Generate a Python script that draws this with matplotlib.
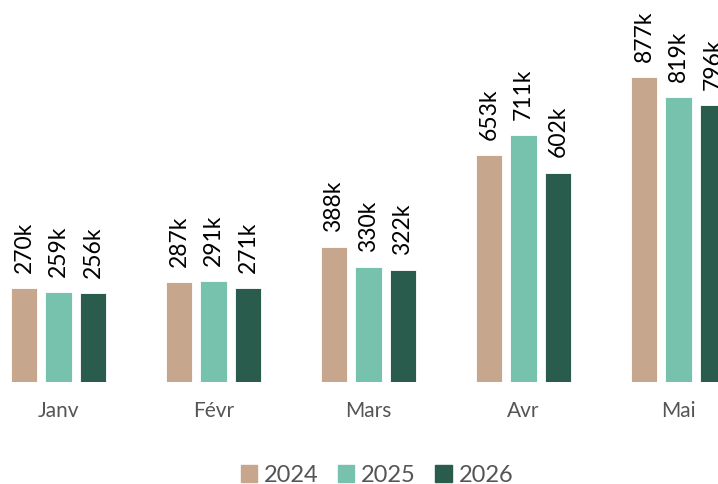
import matplotlib
matplotlib.use("Agg")
import matplotlib.pyplot as plt
import numpy as np
from matplotlib.patches import Patch

months = ["Janv", "Févr", "Mars", "Avr", "Mai"]
series_names = ["2024", "2025", "2026"]
v2024 = [270, 287, 388, 653, 877]
v2025 = [259, 291, 330, 711, 819]
v2026 = [256, 271, 322, 602, 796]
colors = ["#c6a68c", "#76c2ac", "#295c4d"]

plt.rcParams['font.family'] = ['Lato', 'DejaVu Sans']

fig = plt.figure(figsize=(7.18, 4.84), dpi=100)
ax = fig.add_axes([0, (484 - 382) / 484, 1, 382 / 484])

x = np.arange(len(months))
step = 0.2226
width = 0.174
for i, (vals, c) in enumerate(zip([v2024, v2025, v2026], colors)):
    pos = x + (i - 1) * step
    bars = ax.bar(pos, vals, width=width, color=c, edgecolor="white", linewidth=0.6)
    for p, v in zip(pos, vals):
        ax.annotate(f"{v}k", (p, v), xytext=(0, 11), textcoords="offset points",
                    rotation=90, ha="center", va="bottom", fontsize=16.5, color="black")

ax.set_xlim(-58.5 / 155, (718 - 58.5) / 155)
ax.set_ylim(0, 1099)
ax.axis("off")

for xi, m in zip(x, months):
    ax.annotate(m, (xi, 0), xytext=(0, -14), textcoords="offset points",
                ha="center", va="top", fontsize=15, color="#555555")

handles = [Patch(color=c, label=n) for c, n in zip(colors, series_names)]
fig.legend(handles=handles, loc="center", bbox_to_anchor=(377 / 718, 1 - 475 / 484),
           ncol=3, frameon=False, fontsize=17, labelcolor="#555555",
           handlelength=0.7, handleheight=0.7, handletextpad=0.3, columnspacing=0.8)

fig.savefig("out.png", dpi=100)
